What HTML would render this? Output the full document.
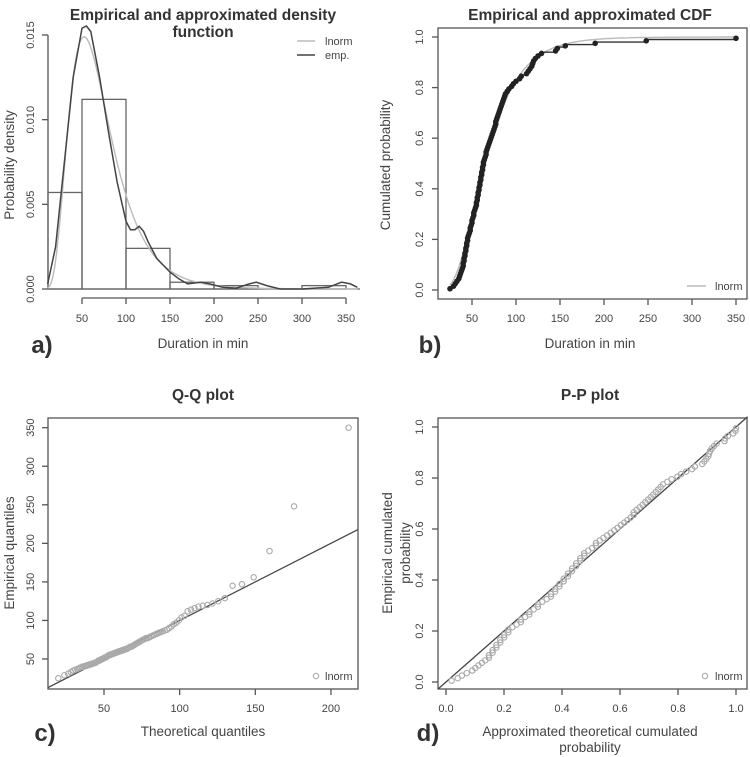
<!DOCTYPE html>
<html><head><meta charset="utf-8"><style>
html,body{margin:0;padding:0;background:#fff;}
svg{display:block;font-family:"Liberation Sans",sans-serif;}
</style></head><body>
<svg id="c" width="750" height="757" viewBox="0 0 750 757"></svg>
<script>
// ---- data ----
const sample = [25,29,31,33,35,36,37,38,39,40,40,41,41,42,42,43,43,44,44,45,45,46,47,48,48,49,50,50,51,52,52,53,54,55,55,56,56,57,57,58,58,59,59,60,60,61,61,62,62,63,63,64,65,66,66,67,68,69,70,71,72,73,74,75,76,77,77,78,79,80,81,82,83,84,85,86,87,88,90,92,95,97,100,104,106,112,114,116,118,119,120,122,125,129,145,147,156,190,248,350];
const histBreaks = [0,50,100,150,200,250,300,350];
const histDensity = [0.0057,0.0112,0.0024,0.0004,0.0002,0.0,0.0002];
const kdeX = [11,20,30,40,50,55,60,70,80,90,100,105,110,115,120,125,135,150,160,170,185,195,210,225,240,248,260,275,300,330,345,355,363];
const kdeY = [0.0003,0.0025,0.0075,0.0125,0.0154,0.0158,0.0152,0.0125,0.0093,0.0063,0.0040,0.0035,0.0035,0.0037,0.0034,0.0028,0.0018,0.0010,0.0006,0.0003,0.0004,0.0003,0.0001,0.00005,0.0003,0.0004,0.0002,0.0,0.0,0.0001,0.0004,0.0003,0.0001];
const meanlog = [4.17];
const sdlog = [0.46];
const densTicks = [0,0.005,0.010,0.015];
const densTickLabels = ["0.000","0.005","0.010","0.015"];
const durTicks = [50,100,150,200,250,300,350];
const probTicks = [0,0.2,0.4,0.6,0.8,1.0];
const probTickLabels = ["0.0","0.2","0.4","0.6","0.8","1.0"];
const qqXTicks = [50,100,150,200];
const qqYTicks = [50,100,150,200,250,300,350];

const svg = document.getElementById('c');
const NS = 'http://www.w3.org/2000/svg';
function mk(tag, attrs, name, parent){
  const e = document.createElementNS(NS, tag);
  for (const k in attrs) e.setAttribute(k, attrs[k]);
  
  
  (parent||svg).appendChild(e);
  return e;
}
function txt(x,y,s,name,opt){
  opt = opt||{};
  const t = mk('text',{x:x,y:y,'font-size':opt.size||11,fill:opt.fill||'#444','text-anchor':opt.anchor||'middle','font-weight':opt.bold?'bold':'normal'},name);
  if (opt.rot) t.setAttribute('transform','rotate(-90 '+x+' '+y+')');
  t.textContent = s;
  return t;
}
function line(x1,y1,x2,y2,name,stroke,w){
  return mk('line',{x1:x1,y1:y1,x2:x2,y2:y2,stroke:stroke||'#555','stroke-width':w||1.3},name);
}
function poly(pts,name,stroke,w){
  return mk('polyline',{points:pts.map(p=>p[0].toFixed(1)+','+p[1].toFixed(1)).join(' '),fill:'none',stroke:stroke,'stroke-width':w||1.4},name);
}
function erf(x){const s=x<0?-1:1;x=Math.abs(x);const t=1/(1+0.3275911*x);
  const y=1-(((((1.061405429*t-1.453152027)*t)+1.421413741)*t-0.284496736)*t+0.254829592)*t*Math.exp(-x*x);return s*y;}
function plnorm(x){return 0.5*(1+erf((Math.log(x)-meanlog[0])/(sdlog[0]*Math.SQRT2)));}
function dlnorm(x){const z=(Math.log(x)-meanlog[0])/sdlog[0];return Math.exp(-z*z/2)/(x*sdlog[0]*Math.sqrt(2*Math.PI));}
function qnorm(p){
  const a=[-39.69683028665376,220.9460984245205,-275.9285104469687,138.3577518672690,-30.66479806614716,2.506628277459239];
  const b=[-54.47609879822406,161.5858368580409,-155.6989798598866,66.80131188771972,-13.28068155288572];
  const c=[-0.007784894002430293,-0.3223964580411365,-2.400758277161838,-2.549732539343734,4.374664141464968,2.938163982698783];
  const d=[0.007784695709041462,0.3224671290700398,2.445134137142996,3.754408661907416];
  let q,r;
  if(p<0.02425){q=Math.sqrt(-2*Math.log(p));return (((((c[0]*q+c[1])*q+c[2])*q+c[3])*q+c[4])*q+c[5])/((((d[0]*q+d[1])*q+d[2])*q+d[3])*q+1);}
  if(p>1-0.02425){q=Math.sqrt(-2*Math.log(1-p));return -(((((c[0]*q+c[1])*q+c[2])*q+c[3])*q+c[4])*q+c[5])/((((d[0]*q+d[1])*q+d[2])*q+d[3])*q+1);}
  q=p-0.5;r=q*q;return (((((a[0]*r+a[1])*r+a[2])*r+a[3])*r+a[4])*r+a[5])*q/(((((b[0]*r+b[1])*r+b[2])*r+b[3])*r+b[4])*r+1);
}
const n = sample.length;
const TS = 15.5, LS = 13.5;

// ================= Panel a =================
(function(){
  const X = v => 82 + (v-50)*0.88;
  const Y = v => 289 - v*(254/0.015);
  txt(203,20,'Empirical and approximated density','density-title',{size:TS,bold:true,fill:'#333'});
  txt(203,37,'function','density-title-line2',{size:TS,bold:true,fill:'#333'});
  line(48,Y(0),48,Y(0.015),'density-y-axis');
  densTicks.forEach((t,i)=>{line(42,Y(t),48,Y(t),'density-y-tick');txt(34,Y(t),densTickLabels[i],'density-y-tick-label',{rot:true});});
  txt(14,165,'Probability density','density-y-axis-title',{size:LS,rot:true});
  line(X(50),298,X(350),298,'density-x-axis');
  durTicks.forEach(t=>{line(X(t),298,X(t),304,'density-x-tick');txt(X(t),322,String(t),'density-x-tick-label');});
  txt(203,348,'Duration in min','density-x-axis-title',{size:LS});
  txt(42,353,'a)','panel-a-label',{size:24,bold:true,fill:'#333'});
  line(48,Y(0),360,Y(0),'histogram-baseline','#666',1.3);
  histDensity.forEach((d,i)=>{
    const x0=Math.max(48,X(histBreaks[i])), x1=X(histBreaks[i+1]);
    mk('rect',{x:x0,y:Y(d),width:x1-x0,height:Y(0)-Y(d),fill:'none',stroke:'#666','stroke-width':1.3},'histogram-bar');
  });
  const lp=[];for(let v=11;v<=363;v+=2){lp.push([X(v),Y(dlnorm(v))]);}
  poly(lp,'lnorm-density-curve','#bbb',1.4);
  const cp=[];kdeX.forEach((v,i)=>cp.push([X(v),Math.max(Y(kdeY[i]),26)]));
  poly(cp,'empirical-density-curve','#444',1.5);
  line(297,41,315,41,'legend-lnorm-line','#bbb',1.4);
  txt(325,45,'lnorm','legend-lnorm-label',{anchor:'start',size:11});
  line(297,55,315,55,'legend-emp-line','#444',1.5);
  txt(325,59,'emp.','legend-emp-label',{anchor:'start',size:11});
})();

// ================= Panel b =================
(function(){
  const X = v => 472 + (v-50)*0.88;
  const Y = v => 290 - v*253;
  txt(590,20,'Empirical and approximated CDF','cdf-title',{size:TS,bold:true,fill:'#333'});
  mk('rect',{x:438,y:28,width:309,height:271,fill:'none',stroke:'#555','stroke-width':1.3},'cdf-plot-box');
  probTicks.forEach((t,i)=>{line(432,Y(t),438,Y(t),'cdf-y-tick');txt(423,Y(t),probTickLabels[i],'cdf-y-tick-label',{rot:true});});
  durTicks.forEach(t=>{line(X(t),299,X(t),305,'cdf-x-tick');txt(X(t),322,String(t),'cdf-x-tick-label');});
  txt(390,165,'Cumulated probability','cdf-y-axis-title',{size:LS,rot:true});
  txt(590,348,'Duration in min','cdf-x-axis-title',{size:LS});
  txt(430,353,'b)','panel-b-label',{size:24,bold:true,fill:'#333'});
  const lp=[];for(let v=25;v<=352;v+=2){lp.push([X(v),Y(plnorm(v))]);}
  poly(lp,'lnorm-cdf-curve','#bbb',1.4);
  const sp=[];
  sample.forEach((v,i)=>{const p=(i+1)/n;const prev=i/n;sp.push([X(v),Y(prev)]);sp.push([X(v),Y(p)]);if(i<n-1)sp.push([X(sample[i+1]),Y(p)]);});
  poly(sp,'ecdf-step-line','#333',1.4);
  sample.forEach((v,i)=>{mk('circle',{cx:X(v),cy:Y((i+0.5)/n),r:2.8,fill:'#222'},'ecdf-point');});
  line(687,286,706,286,'cdf-legend-lnorm-line','#bbb',1.4);
  txt(715,290,'lnorm','cdf-legend-lnorm-label',{anchor:'start'});
})();

// ================= Panel c =================
(function(){
  const X = v => 104 + (v-50)*1.513;
  const Y = v => 659 - (v-50)*0.771;
  txt(203,400,'Q-Q plot','qq-title',{size:TS,bold:true,fill:'#333'});
  mk('rect',{x:48,y:418,width:310,height:271,fill:'none',stroke:'#555','stroke-width':1.3},'qq-plot-box');
  qqYTicks.forEach(t=>{line(42,Y(t),48,Y(t),'qq-y-tick');txt(34,Y(t),String(t),'qq-y-tick-label',{rot:true});});
  qqXTicks.forEach(t=>{line(X(t),689,X(t),695,'qq-x-tick');txt(X(t),712,String(t),'qq-x-tick-label');});
  txt(14,553,'Empirical quantiles','qq-y-axis-title',{size:LS,rot:true});
  txt(203,736,'Theoretical quantiles','qq-x-axis-title',{size:LS});
  txt(45,741,'c)','panel-c-label',{size:24,bold:true,fill:'#333'});
  const x0=13,x1=218;
  line(X(x0),Y(x0),X(x1),Y(x1),'qq-reference-line','#444',1.3);
  sample.forEach((v,i)=>{const q=Math.exp(meanlog[0]+sdlog[0]*qnorm((i+0.5)/n));
    mk('circle',{cx:X(q),cy:Y(v),r:2.7,fill:'none',stroke:'#aaa','stroke-width':1.1},'qq-point');});
  mk('circle',{cx:316,cy:676,r:2.7,fill:'none',stroke:'#aaa','stroke-width':1.1},'qq-legend-marker');
  txt(325,680,'lnorm','qq-legend-label',{anchor:'start'});
})();

// ================= Panel d =================
(function(){
  const X = v => 446 + v*290;
  const Y = v => 682 - v*255;
  txt(590,400,'P-P plot','pp-title',{size:TS,bold:true,fill:'#333'});
  mk('rect',{x:438,y:418,width:309,height:271,fill:'none',stroke:'#555','stroke-width':1.3},'pp-plot-box');
  probTicks.forEach((t,i)=>{line(432,Y(t),438,Y(t),'pp-y-tick');txt(423,Y(t),probTickLabels[i],'pp-y-tick-label',{rot:true});
    line(X(t),689,X(t),695,'pp-x-tick');txt(X(t),712,probTickLabels[i],'pp-x-tick-label');});
  txt(392,553,'Empirical cumulated','pp-y-axis-title',{size:LS,rot:true});
  txt(410,553,'probability','pp-y-axis-title-line2',{size:LS,rot:true});
  txt(590,736,'Approximated theoretical cumulated','pp-x-axis-title',{size:LS});
  txt(590,752,'probability','pp-x-axis-title-line2',{size:LS});
  txt(428,741,'d)','panel-d-label',{size:24,bold:true,fill:'#333'});
  line(X(-0.027),Y(-0.027),X(1.04),Y(1.04),'pp-reference-line','#444',1.3);
  sample.forEach((v,i)=>{mk('circle',{cx:X(plnorm(v)),cy:Y((i+0.5)/n),r:2.7,fill:'none',stroke:'#aaa','stroke-width':1.1},'pp-point');});
  mk('circle',{cx:705,cy:676,r:2.7,fill:'none',stroke:'#aaa','stroke-width':1.1},'pp-legend-marker');
  txt(715,680,'lnorm','pp-legend-label',{anchor:'start'});
})();
</script>
</body></html>
